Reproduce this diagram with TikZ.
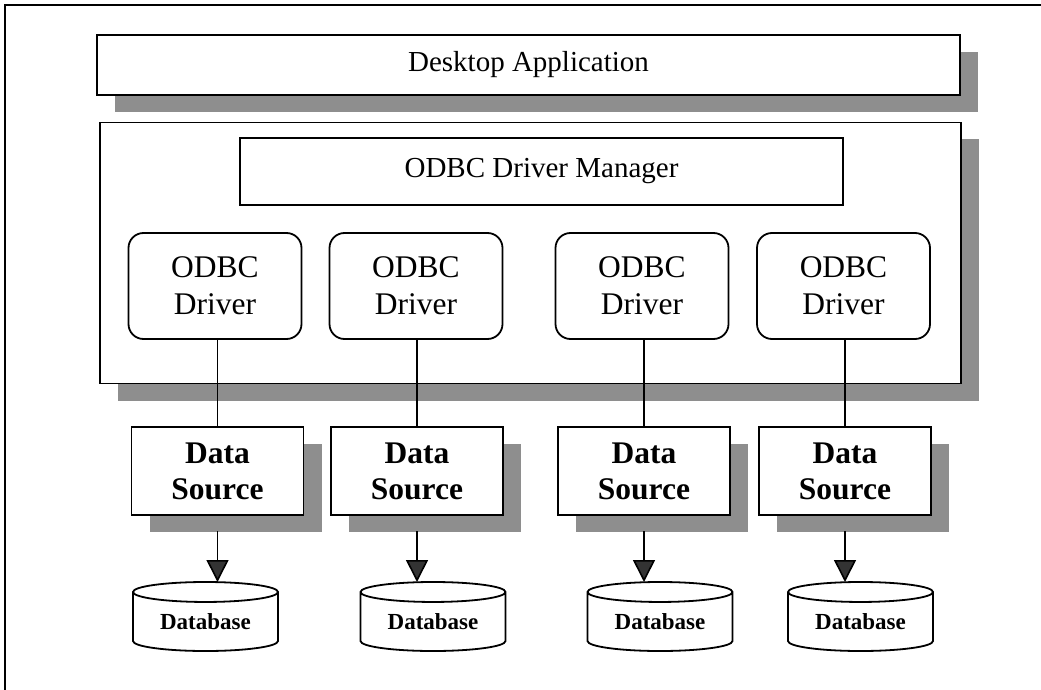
\documentclass[tikz,border=0pt]{standalone}
\usepackage{fontspec}
\setmainfont{Liberation Serif}
\usetikzlibrary{shapes.geometric,shadows,arrows.meta}
\definecolor{shade}{RGB}{142,142,142}
\begin{document}
\begin{tikzpicture}[y=1pt, x=1pt, yscale=-1, inner sep=0pt, outer sep=0pt,
	box/.style={rectangle, draw=black, line width=1.8, fill=white},
	shadowed/.style={drop shadow={shadow xshift=18pt, shadow yshift=-17pt, fill=shade, opacity=1}},
	driver/.style={rectangle, rounded corners=15, draw=black, line width=1.8, fill=white, minimum width=173, minimum height=106, align=center, font=\fontsize{31.5}{37}\selectfont},
	source/.style={box, shadowed, minimum width=172, minimum height=88, align=center, font=\fontsize{31.5}{36}\selectfont\bfseries},
	store/.style={cylinder, shape border rotate=90, aspect=0.22, anchor=shape center, draw=black, line width=1.8, fill=white, minimum width=145, minimum height=69, font=\fontsize{23}{26}\selectfont\bfseries},
	link/.style={line width=1.6}]
\useasboundingbox (0,0) rectangle (1041,690);
\draw[line width=1.8] (5,690) -- (5,5) -- (1041,5);

	\node[box, shadowed, minimum width=863, minimum height=60, font=\fontsize{29}{34}\selectfont] (app) at (528.5,65) {Desktop Application};
	\node[box, shadowed, minimum width=861, minimum height=261] (odbc) at (530.5,253) {};
	\node[box, minimum width=603, minimum height=67, font=\fontsize{29}{34}\selectfont] (mgr) at (541.5,171.5) {ODBC Driver Manager};

	\node[driver] (drv1) at (215,286) {ODBC\\Driver};
	\node[driver] (drv2) at (416,286) {ODBC\\Driver};
	\node[driver] (drv3) at (642,286) {ODBC\\Driver};
	\node[driver] (drv4) at (843.5,286) {ODBC\\Driver};

	\node[source] (ds1) at (217.5,471) {Data\\Source};
	\node[source] (ds2) at (417,471) {Data\\Source};
	\node[source] (ds3) at (644,471) {Data\\Source};
	\node[source] (ds4) at (845,471) {Data\\Source};

	\node[store] (db1) at (205.5,616.5) {Database};
	\node[store] (db2) at (433,616.5) {Database};
	\node[store] (db3) at (660,616.5) {Database};
	\node[store] (db4) at (860.5,616.5) {Database};

	\foreach \i in {1,...,4} {
		\draw[link] (ds\i.north) -- (ds\i.north |- drv\i.south);
		\draw[link, -{Triangle[width=22, length=22, fill=black!80]}, shorten <=16] (ds\i.south) -- (ds\i.south |- db\i.north);
	}
\end{tikzpicture}
\end{document}
